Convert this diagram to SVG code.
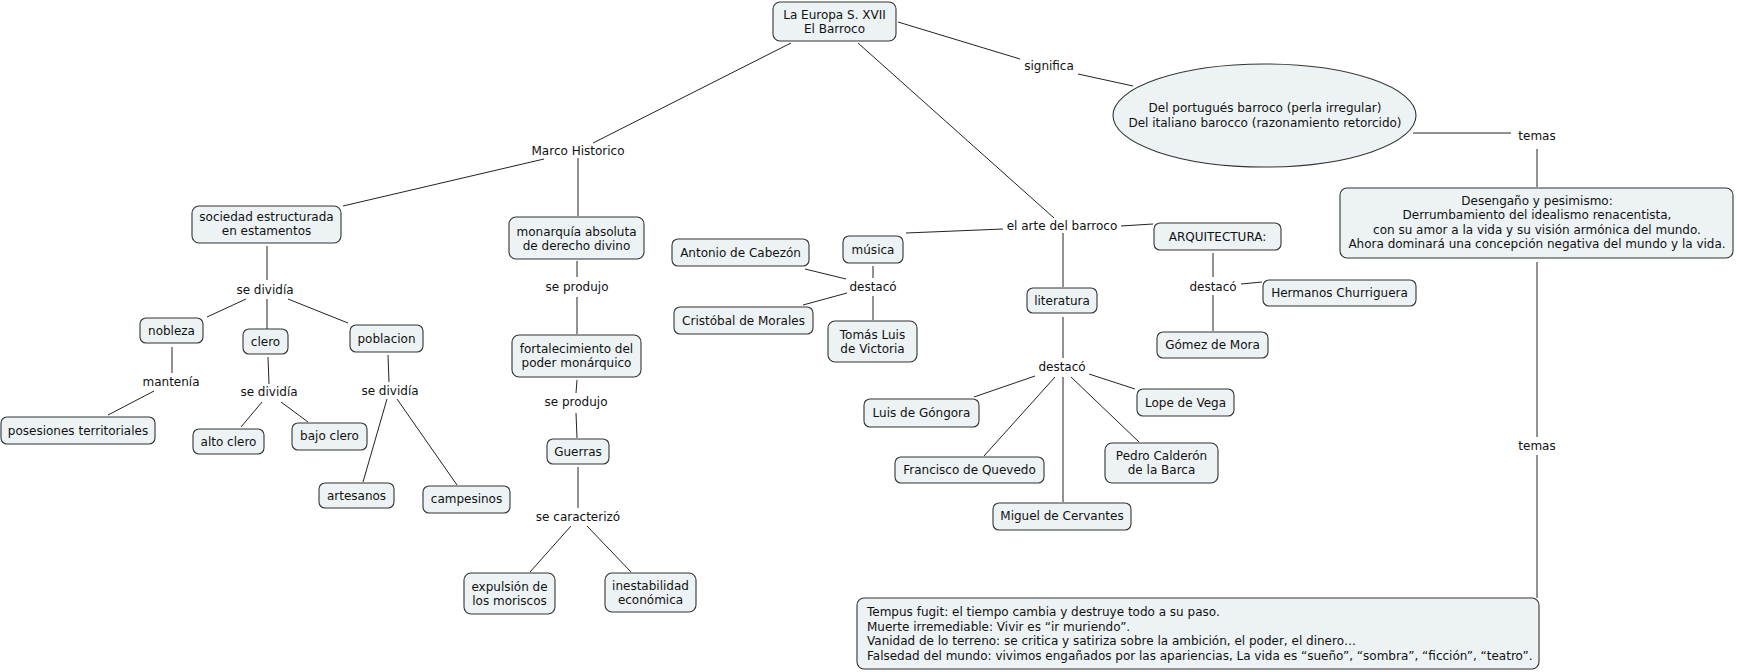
<svg xmlns="http://www.w3.org/2000/svg" width="1737" height="672" viewBox="0 0 1737 672">
<style>
.n{fill:#EDF3F5;stroke:#333;stroke-width:1.1}
text{font-family:"DejaVu Sans",Verdana,sans-serif;font-size:12px;fill:#111}
.c{text-anchor:middle}
#connectors line{stroke:#222;stroke-width:1}
</style>
<rect width="1737" height="672" fill="#fff"/>
<g id="connectors">
<line x1="791" y1="43" x2="593" y2="143"/>
<line x1="544" y1="159" x2="343" y2="206"/>
<line x1="578" y1="158" x2="578" y2="216"/>
<line x1="858" y1="43" x2="1054" y2="218"/>
<line x1="898" y1="22" x2="1020" y2="59"/>
<line x1="1078" y1="74" x2="1133" y2="86"/>
<line x1="1413" y1="133" x2="1511" y2="133"/>
<line x1="1537" y1="149" x2="1537" y2="187"/>
<line x1="1537" y1="262" x2="1537" y2="437"/>
<line x1="1537" y1="455" x2="1537" y2="598"/>
<line x1="267" y1="246" x2="267" y2="280"/>
<line x1="246" y1="299" x2="207" y2="317"/>
<line x1="267" y1="299" x2="267" y2="329"/>
<line x1="288" y1="299" x2="348" y2="323"/>
<line x1="172" y1="347" x2="172" y2="373"/>
<line x1="154" y1="391" x2="108" y2="415"/>
<line x1="268" y1="357" x2="269" y2="384"/>
<line x1="262" y1="402" x2="241" y2="427"/>
<line x1="281" y1="402" x2="308" y2="422"/>
<line x1="388" y1="355" x2="389" y2="382"/>
<line x1="387" y1="399" x2="363" y2="482"/>
<line x1="397" y1="399" x2="457" y2="485"/>
<line x1="577" y1="261" x2="577" y2="277"/>
<line x1="577" y1="297" x2="577" y2="334"/>
<line x1="577" y1="380" x2="576" y2="393"/>
<line x1="576" y1="413" x2="577" y2="438"/>
<line x1="578" y1="467" x2="578" y2="508"/>
<line x1="571" y1="526" x2="530" y2="572"/>
<line x1="587" y1="526" x2="631" y2="572"/>
<line x1="1003" y1="229" x2="906" y2="233"/>
<line x1="873" y1="266" x2="873" y2="278"/>
<line x1="846" y1="279" x2="805" y2="269"/>
<line x1="847" y1="293" x2="803" y2="305"/>
<line x1="873" y1="296" x2="873" y2="320"/>
<line x1="1063" y1="233" x2="1063" y2="287"/>
<line x1="1063" y1="317" x2="1063" y2="358"/>
<line x1="1035" y1="376" x2="974" y2="397"/>
<line x1="1055" y1="377" x2="984" y2="456"/>
<line x1="1063" y1="377" x2="1063" y2="502"/>
<line x1="1071" y1="377" x2="1139" y2="442"/>
<line x1="1089" y1="374" x2="1135" y2="389"/>
<line x1="1121" y1="226" x2="1153" y2="224"/>
<line x1="1213" y1="253" x2="1213" y2="277"/>
<line x1="1241" y1="284" x2="1262" y2="282"/>
<line x1="1213" y1="295" x2="1213" y2="331"/>
</g>
<g id="root"><rect class="n" x="773" y="2" width="123" height="39" rx="7"/><text class="c" x="834.5" y="19">La Europa S. XVII</text><text class="c" x="834.5" y="33">El Barroco</text></g>
<g id="marco"><text class="c" x="578" y="155">Marco Historico</text></g>
<g id="significa"><text class="c" x="1049" y="70">significa</text></g>
<g id="ellipse"><ellipse class="n" cx="1264.5" cy="115.5" rx="151.5" ry="51.5"/><text class="c" x="1265" y="112">Del portugués barroco (perla irregular)</text><text class="c" x="1265" y="127">Del italiano barocco (razonamiento retorcido)</text></g>
<g id="temas1"><text class="c" x="1537" y="140">temas</text></g>
<g id="desengano"><rect class="n" x="1340" y="188" width="393" height="70" rx="7"/><text class="c" x="1537" y="205">Desengaño y pesimismo:</text><text class="c" x="1537" y="219">Derrumbamiento del idealismo renacentista,</text><text class="c" x="1537" y="234">con su amor a la vida y su visión armónica del mundo.</text><text class="c" x="1537" y="248">Ahora dominará una concepción negativa del mundo y la vida.</text></g>
<g id="temas2"><text class="c" x="1537" y="450">temas</text></g>
<g id="bottom"><rect class="n" x="857" y="598" width="682" height="71" rx="7"/><text x="867" y="616">Tempus fugit: el tiempo cambia y destruye todo a su paso.</text><text x="867" y="630.5">Muerte irremediable: Vivir es “ir muriendo”.</text><text x="867" y="645">Vanidad de lo terreno: se critica y satiriza sobre la ambición, el poder, el dinero…</text><text x="867" y="659.5">Falsedad del mundo: vivimos engañados por las apariencias, La vida es “sueño”, “sombra”, “ficción”, “teatro”.</text></g>
<g id="sociedad"><rect class="n" x="192" y="206" width="149" height="37" rx="7"/><text class="c" x="266.5" y="221">sociedad estructurada</text><text class="c" x="266.5" y="235">en estamentos</text></g>
<g id="sedividia1"><text class="c" x="265" y="294">se dividía</text></g>
<g id="nobleza"><rect class="n" x="140" y="318" width="63" height="25" rx="6"/><text class="c" x="171.5" y="335">nobleza</text></g>
<g id="clero"><rect class="n" x="243" y="329" width="45" height="25" rx="6"/><text class="c" x="265.5" y="346">clero</text></g>
<g id="poblacion"><rect class="n" x="350" y="325" width="73" height="27" rx="6"/><text class="c" x="386.5" y="343">poblacion</text></g>
<g id="mantenia"><text class="c" x="171" y="386">mantenía</text></g>
<g id="posesiones"><rect class="n" x="1" y="417" width="154" height="27" rx="6"/><text class="c" x="78" y="435">posesiones territoriales</text></g>
<g id="sedividia2"><text class="c" x="269" y="396">se dividía</text></g>
<g id="alto"><rect class="n" x="193" y="429" width="71" height="25" rx="6"/><text class="c" x="228.5" y="446">alto clero</text></g>
<g id="bajo"><rect class="n" x="292" y="423" width="75" height="27" rx="6"/><text class="c" x="329.5" y="440">bajo clero</text></g>
<g id="sedividia3"><text class="c" x="390" y="395">se dividía</text></g>
<g id="artesanos"><rect class="n" x="319" y="483" width="75" height="25" rx="6"/><text class="c" x="356.5" y="500">artesanos</text></g>
<g id="campesinos"><rect class="n" x="423" y="486" width="87" height="27" rx="6"/><text class="c" x="466.5" y="503">campesinos</text></g>
<g id="monarquia"><rect class="n" x="509" y="217" width="135" height="42" rx="7"/><text class="c" x="576.5" y="236">monarquía absoluta</text><text class="c" x="576.5" y="250">de derecho divino</text></g>
<g id="seproduj1"><text class="c" x="577" y="291">se produjo</text></g>
<g id="fortalecimiento"><rect class="n" x="512" y="335" width="129" height="42" rx="7"/><text class="c" x="576.5" y="353">fortalecimiento del</text><text class="c" x="576.5" y="367">poder monárquico</text></g>
<g id="seproduj2"><text class="c" x="576" y="406">se produjo</text></g>
<g id="guerras"><rect class="n" x="547" y="439" width="62" height="25" rx="6"/><text class="c" x="578" y="456">Guerras</text></g>
<g id="secaracterizo"><text class="c" x="578" y="521">se caracterizó</text></g>
<g id="expulsion"><rect class="n" x="464" y="573" width="91" height="41" rx="7"/><text class="c" x="509.5" y="591">expulsión de</text><text class="c" x="509.5" y="605">los moriscos</text></g>
<g id="inestabilidad"><rect class="n" x="605" y="573" width="91" height="39" rx="7"/><text class="c" x="650.5" y="590">inestabilidad</text><text class="c" x="650.5" y="604">económica</text></g>
<g id="arte"><text class="c" x="1062" y="230">el arte del barroco</text></g>
<g id="musica"><rect class="n" x="843" y="236" width="60" height="27" rx="6"/><text class="c" x="873" y="254">música</text></g>
<g id="destaco1"><text class="c" x="873" y="291">destacó</text></g>
<g id="antonio"><rect class="n" x="672" y="239" width="137" height="27" rx="6"/><text class="c" x="740.5" y="257">Antonio de Cabezón</text></g>
<g id="cristobal"><rect class="n" x="674" y="307" width="139" height="27" rx="6"/><text class="c" x="743.5" y="325">Cristóbal de Morales</text></g>
<g id="tomas"><rect class="n" x="828" y="321" width="89" height="41" rx="7"/><text class="c" x="872.5" y="339">Tomás Luis</text><text class="c" x="872.5" y="353">de Victoria</text></g>
<g id="literatura"><rect class="n" x="1027" y="288" width="70" height="25" rx="6"/><text class="c" x="1062" y="305">literatura</text></g>
<g id="destaco2"><text class="c" x="1062" y="371">destacó</text></g>
<g id="luis"><rect class="n" x="864" y="399" width="115" height="28" rx="6"/><text class="c" x="921.5" y="417">Luis de Góngora</text></g>
<g id="francisco"><rect class="n" x="895" y="457" width="149" height="26" rx="6"/><text class="c" x="969.5" y="474">Francisco de Quevedo</text></g>
<g id="miguel"><rect class="n" x="993" y="503" width="138" height="27" rx="6"/><text class="c" x="1062" y="520">Miguel de Cervantes</text></g>
<g id="pedro"><rect class="n" x="1105" y="443" width="113" height="40" rx="7"/><text class="c" x="1161.5" y="460">Pedro Calderón</text><text class="c" x="1161.5" y="474">de la Barca</text></g>
<g id="lope"><rect class="n" x="1137" y="389" width="97" height="27" rx="6"/><text class="c" x="1185.5" y="407">Lope de Vega</text></g>
<g id="arq"><rect class="n" x="1154" y="223" width="127" height="27" rx="6"/><text class="c" x="1217.5" y="241">ARQUITECTURA:</text></g>
<g id="destaco3"><text class="c" x="1213" y="291">destacó</text></g>
<g id="hermanos"><rect class="n" x="1263" y="280" width="153" height="26" rx="6"/><text class="c" x="1339.5" y="297">Hermanos Churriguera</text></g>
<g id="gomez"><rect class="n" x="1157" y="332" width="111" height="26" rx="6"/><text class="c" x="1212.5" y="349">Gómez de Mora</text></g>
</svg>
